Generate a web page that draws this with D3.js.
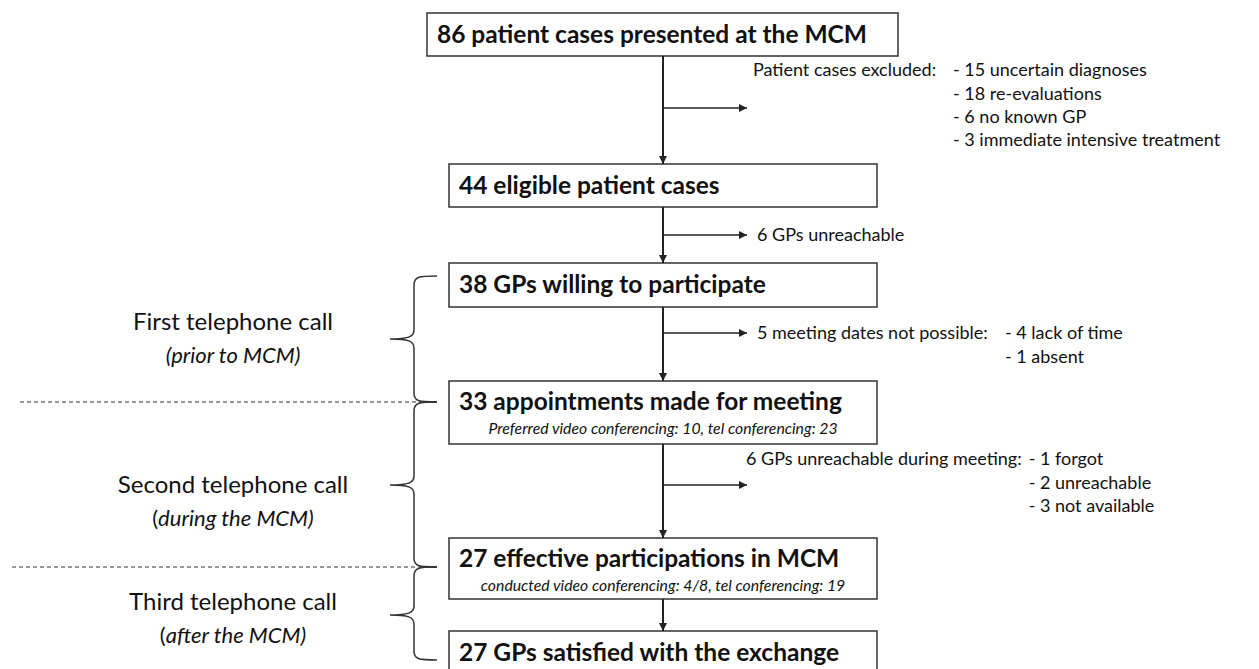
<!DOCTYPE html>
<html>
<head>
<meta charset="utf-8">
<script src="https://cdn.jsdelivr.net/npm/d3@7"></script>
<style>
  html, body { margin: 0; padding: 0; background: #fff; }
  svg { display: block; }
  text { font-family: Lato, "Open Sans", sans-serif; fill: #111; }
</style>
</head>
<body>
<svg id="chart" width="1259" height="669"></svg>
<script>
// ---- data ----
const stepCounts = [86, 44, 38, 33, 27, 27];
const stepLabels = [
  "patient cases presented at the MCM",
  "eligible patient cases",
  "GPs willing to participate",
  "appointments made for meeting",
  "effective participations in MCM",
  "GPs satisfied with the exchange"
];
const stepNotes = [
  "", "", "",
  "Preferred video conferencing: 10, tel conferencing: 23",
  "conducted video conferencing: 4/8, tel conferencing: 19",
  ""
];
const exclusionHeads = [
  "Patient cases excluded:",
  "6 GPs unreachable",
  "5 meeting dates not possible:",
  "6 GPs unreachable during meeting:"
];
const exclusionItems = [
  ["- 15 uncertain diagnoses", "- 18 re-evaluations", "- 6 no known GP", "- 3 immediate intensive treatment"],
  [],
  ["- 4 lack of time", "- 1 absent"],
  ["- 1 forgot", "- 2 unreachable", "- 3 not available"]
];
const phaseTitles = ["First telephone call", "Second telephone call", "Third telephone call"];
const phaseNotes = [
  {pre: "", it: "(prior to MCM)"},
  {pre: "(", it: "during the MCM)"},
  {pre: "(", it: "after the MCM)"}
];

// ---- layout ----
const svg = d3.select("#chart");
const ink = "#222";
const boxTop = [13, 164, 263, 381, 538, 631];
const boxH   = [43, 43, 44, 63, 61, 44];
const boxX = (i) => i === 0 ? [427, 898] : [449, 877];
const xMid = 663;
const branchY = [108, 235, 333, 485];
const branchEnd = 747;
const headX = [753, 757, 757, 746];
const headY = [70, 235, 333, 459];
const itemX = [953, 0, 1005, 1011];
const lineGap = 23.3;

const yScale = d3.scaleLinear().domain([0, 669]).range([0, 669]);

const defs = svg.append("defs");
defs.append("marker")
  .attr("id", "arr")
  .attr("viewBox", "0 0 10 10")
  .attr("refX", 10).attr("refY", 5)
  .attr("markerWidth", 10).attr("markerHeight", 8)
  .attr("markerUnits", "userSpaceOnUse")
  .attr("orient", "auto")
  .append("path").attr("d", "M0,0 L10,5 L0,10 Z").attr("fill", ink);

const steps = stepCounts.map((c, i) => ({c, i, label: stepLabels[i], note: stepNotes[i]}));

// boxes
const boxes = svg.append("g").selectAll("g").data(steps).join("g");
boxes.append("rect")
  .attr("x", d => boxX(d.i)[0])
  .attr("y", d => yScale(boxTop[d.i]))
  .attr("width", d => boxX(d.i)[1] - boxX(d.i)[0])
  .attr("height", d => boxH[d.i])
  .attr("fill", "#fff").attr("stroke", "#333").attr("stroke-width", 1.5);
boxes.append("text")
  .attr("x", d => boxX(d.i)[0] + 10)
  .attr("y", d => yScale(boxTop[d.i]) + (d.note ? 29 : 30))
  .attr("font-size", 24.5).attr("font-weight", 700)
  .text(d => d.c + " " + d.label);
boxes.filter(d => d.note).append("text")
  .attr("x", d => (boxX(d.i)[0] + boxX(d.i)[1]) / 2)
  .attr("y", d => yScale(boxTop[d.i]) + 53)
  .attr("text-anchor", "middle")
  .attr("font-size", 15.8).attr("font-style", "italic")
  .text(d => d.note);

// vertical arrows
const conn = svg.append("g");
for (let i = 0; i < stepCounts.length - 1; i++) {
  conn.append("line")
    .attr("x1", xMid).attr("x2", xMid)
    .attr("y1", yScale(boxTop[i] + boxH[i]))
    .attr("y2", yScale(boxTop[i + 1]))
    .attr("stroke", ink).attr("stroke-width", 2)
    .attr("marker-end", "url(#arr)");
}
// branch arrows
conn.selectAll("line.br").data(branchY).join("line").attr("class", "br")
  .attr("x1", xMid).attr("x2", branchEnd)
  .attr("y1", d => yScale(d)).attr("y2", d => yScale(d))
  .attr("stroke", ink).attr("stroke-width", 1.5)
  .attr("marker-end", "url(#arr)");

// exclusion texts
const ex = svg.append("g").attr("font-size", 18);
exclusionHeads.forEach((h, i) => {
  const ht = ex.append("text").attr("x", headX[i]).attr("y", yScale(headY[i])).attr("dy", "0.35em").text(h);
  const headEnd = headX[i] + ht.node().getComputedTextLength();
  const ix = Math.max(itemX[i], headEnd + 7);
  exclusionItems[i].forEach((t, j) => {
    ex.append("text").attr("x", ix).attr("y", yScale(headY[i] + j * lineGap)).attr("dy", "0.35em").text(t);
  });
});

// dashed separators
const sepY = [402, 567];
const sepX0 = [20, 12];
svg.append("g").selectAll("line").data(sepY).join("line")
  .attr("x1", (d, i) => sepX0[i]).attr("x2", 436)
  .attr("y1", d => yScale(d)).attr("y2", d => yScale(d))
  .attr("stroke", "#333").attr("stroke-width", 1.2).attr("stroke-dasharray", "4,3");

// braces
const braceSpans = [[276, 402, 339], [402, 567, 485], [567, 660, 615]];
const bx = 414, hookX = 437, tipX = 390, r = 9;
function bracePath([t, b, m]) {
  return `M${hookX},${t} C${bx + 4},${t} ${bx},${t + 1} ${bx},${t + r}` +
    ` L${bx},${m - r} C${bx},${m - 2} ${bx - 6},${m} ${tipX},${m}` +
    ` C${bx - 6},${m} ${bx},${m + 2} ${bx},${m + r}` +
    ` L${bx},${b - r} C${bx},${b - 1} ${bx + 4},${b} ${hookX},${b}`;
}
svg.append("g").selectAll("path").data(braceSpans).join("path")
  .attr("d", d => bracePath(d.map(yScale)))
  .attr("fill", "none").attr("stroke", "#333").attr("stroke-width", 1.5);

// phase labels
const phaseY = [322, 485, 602];
const pg = svg.append("g").attr("text-anchor", "middle").attr("font-size", 24);
phaseTitles.forEach((t, i) => {
  pg.append("text").attr("x", 233).attr("y", yScale(phaseY[i])).attr("dy", "0.35em").text(t);
  const n = pg.append("text").attr("x", 233).attr("y", yScale(phaseY[i] + 33)).attr("dy", "0.35em").attr("font-size", 22);
  if (phaseNotes[i].pre) n.append("tspan").text(phaseNotes[i].pre);
  n.append("tspan").attr("font-style", "italic").text(phaseNotes[i].it);
});
</script>
</body>
</html>
